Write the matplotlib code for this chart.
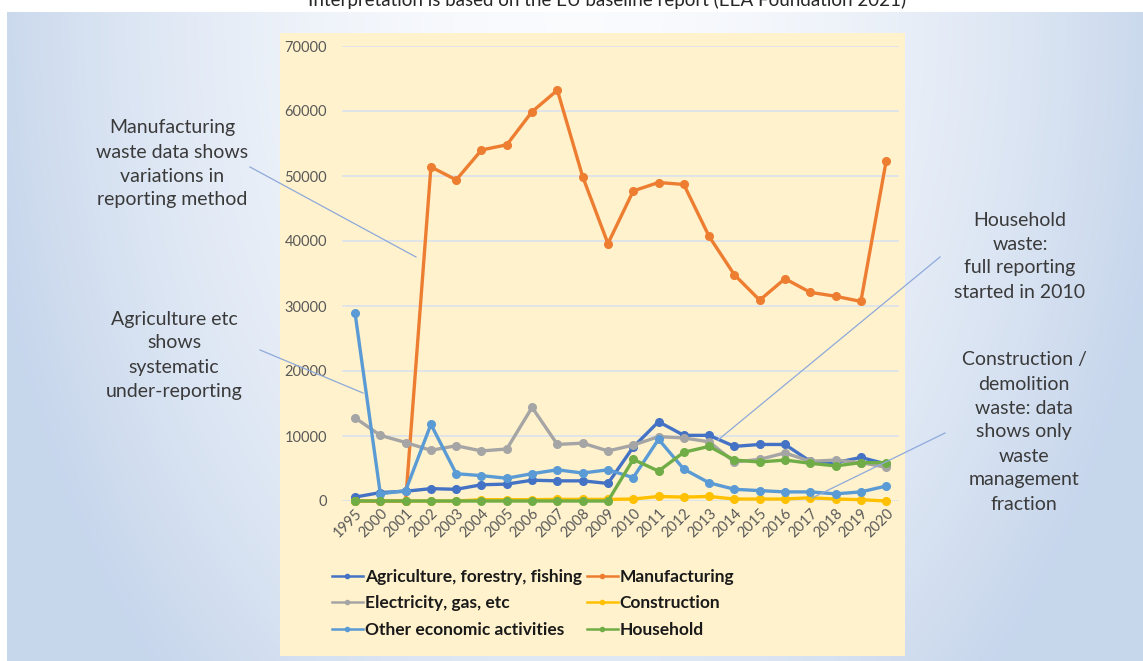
import matplotlib

matplotlib.use("Agg")
import matplotlib.pyplot as plt
import numpy as np
from matplotlib.patches import Rectangle
from matplotlib.lines import Line2D

plt.rcParams["font.family"] = ["Lato", "DejaVu Sans"]

YEARS = ["1995", "2000", "2001", "2002", "2003", "2004", "2005", "2006", "2007", "2008",
         "2009", "2010", "2011", "2012", "2013", "2014", "2015", "2016", "2017", "2018",
         "2019", "2020"]

AGRICULTURE = [600, 1300, 1500, 1900, 1800, 2500, 2600, 3200, 3100, 3100,
               2700, 8300, 12200, 10100, 10100, 8400, 8700, 8700, 6100, 5900,
               6700, 5700]
MANUFACTURING = [0, 0, 0, 51400, 49400, 54000, 54800, 59900, 63200, 49900,
                 39600, 47700, 49000, 48700, 40700, 34800, 30900, 34200, 32100, 31500,
                 30700, 52300]
ELECTRICITY = [12800, 10100, 9000, 7800, 8500, 7700, 8000, 14400, 8700, 8900,
               7700, 8600, 9900, 9700, 9100, 6000, 6400, 7400, 6100, 6300,
               5900, 5200]
CONSTRUCTION = [0, 0, 0, 0, 0, 200, 200, 200, 250, 250,
                250, 300, 700, 600, 700, 300, 300, 300, 500, 300,
                200, 0]
OTHER = [28900, 1100, 1600, 11800, 4200, 3900, 3500, 4200, 4800, 4300,
         4800, 3600, 9500, 4900, 2800, 1800, 1600, 1400, 1400, 1100,
         1400, 2300]
HOUSEHOLD = [0, 0, 0, 0, 0, 0, 0, 0, 0, 0,
             0, 6400, 4600, 7500, 8400, 6300, 6000, 6300, 5800, 5400,
             5900, 5900]

SERIES = [
    ("Agriculture, forestry, fishing", AGRICULTURE, "#4472C4"),
    ("Manufacturing", MANUFACTURING, "#ED7D31"),
    ("Electricity, gas, etc", ELECTRICITY, "#A5A5A5"),
    ("Construction", CONSTRUCTION, "#FFC000"),
    ("Other economic activities", OTHER, "#5B9BD5"),
    ("Household", HOUSEHOLD, "#70AD47"),
]

W, H = 1143, 661
TEXT = "#3a3a3a"
LEADER = "#8EA9DB"


def px(x, y):
    # pixel (top-left origin) -> figure fraction
    return x / W, 1 - y / H


fig = plt.figure(figsize=(W / 100, H / 100), dpi=100)
fig.patch.set_facecolor("white")

# slide background gradient + yellow chart box
bg = fig.add_axes([0, 0, 1, 1])
bg.set_axis_off()
bg.set_zorder(0)
gx, gy = np.meshgrid(np.linspace(-1, 1, 400), np.linspace(0, 1, 240))
r = np.clip(np.sqrt((gx * 0.95) ** 2 + (gy * 0.7) ** 2), 0, 1)
c0 = np.array([0.98, 0.985, 0.995])
c1 = np.array([0.78, 0.84, 0.925])
img = c0 + (c1 - c0) * (r[..., None] ** 1.8)
bg.imshow(img, aspect="auto", extent=[7 / W, 1, 0, 1 - 12 / H], origin="upper")
bg.add_patch(Rectangle(px(280, 656), 625 / W, 623 / H, facecolor="#FFF2CC",
                       edgecolor="none", zorder=2))
bg.set_xlim(0, 1)
bg.set_ylim(0, 1)

left, _ = px(342.4, 0)
right, _ = px(898.8, 0)
_, bottom = px(0, 501)
_, top = px(0, 46)
ax = fig.add_axes([left, bottom, right - left, top - bottom])
ax.set_zorder(2)
ax.set_facecolor("none")

xs = np.arange(len(YEARS))
for name, vals, color in SERIES:
    ax.plot(xs, vals, color=color, lw=2.4, marker="o", ms=5.5, label=name, zorder=3,
            clip_on=False)

ax.set_xlim(-0.5, len(YEARS) - 0.5)
ax.set_ylim(0, 70000)
ax.set_yticks(np.arange(0, 70001, 10000))
ax.set_yticklabels([str(v) for v in range(0, 70001, 10000)])
ax.set_xticks(xs)
ax.set_xticklabels(YEARS, rotation=45, ha="right", va="top", rotation_mode="anchor")
ax.grid(axis="y", color="#DCE2EC", lw=1.2, zorder=1)
ax.tick_params(axis="y", length=0, pad=11, labelsize=10.5, labelcolor="#595959")
ax.tick_params(axis="x", length=0, pad=4, labelsize=10.5, labelcolor="#595959")
for s in ax.spines.values():
    s.set_visible(False)

# legend (column-major order so rows pair up as in the original)
handles, labels = ax.get_legend_handles_labels()
order = [0, 2, 4, 1, 3, 5]
leg_handles = [Line2D([0], [0], color=handles[i].get_color(), lw=1.8, marker="o", ms=3)
               for i in order]
leg = fig.legend(leg_handles, [labels[i] for i in order], ncol=2, frameon=False,
                 loc="upper left", bbox_to_anchor=px(316, 553),
                 prop={"weight": "bold", "size": 12.5}, labelcolor="#1a1a1a",
                 handlelength=1.8, handletextpad=0.1, columnspacing=0.3,
                 labelspacing=0.62)
leg.set_zorder(5)

# annotations
notes = [
    ("Manufacturing\nwaste data shows\nvariations in\nreporting method", 172, 164),
    ("Agriculture etc\nshows\nsystematic\nunder-reporting", 174, 355),
    ("Household\nwaste:\nfull reporting\nstarted in 2010", 1020, 256),
    ("Construction /\ndemolition\nwaste: data\nshows only\nwaste\nmanagement\nfraction", 1024, 432),
]
for txt, x, y in notes:
    fig.text(*px(x, y), txt, ha="center", va="center", fontsize=14, color=TEXT,
             linespacing=1.5, zorder=5)

leaders = [
    ((250, 167), (416, 257)),
    ((260, 350), (363, 393)),
    ((940, 257), (718, 440)),
    ((945, 433), (812, 498)),
]
for (x0, y0), (x1, y1) in leaders:
    a, b = px(x0, y0)
    c, d = px(x1, y1)
    fig.add_artist(Line2D([a, c], [b, d], transform=fig.transFigure, color=LEADER,
                          lw=0.9, zorder=6))

# caption, cut off by the top edge as in the original slide
fig.text(*px(607, 6), "Interpretation is based on the EU baseline report (EEA Foundation 2021)",
         ha="center", va="baseline", fontsize=13.5, color="#262626", zorder=5)

fig.savefig("out.png", dpi=100)
